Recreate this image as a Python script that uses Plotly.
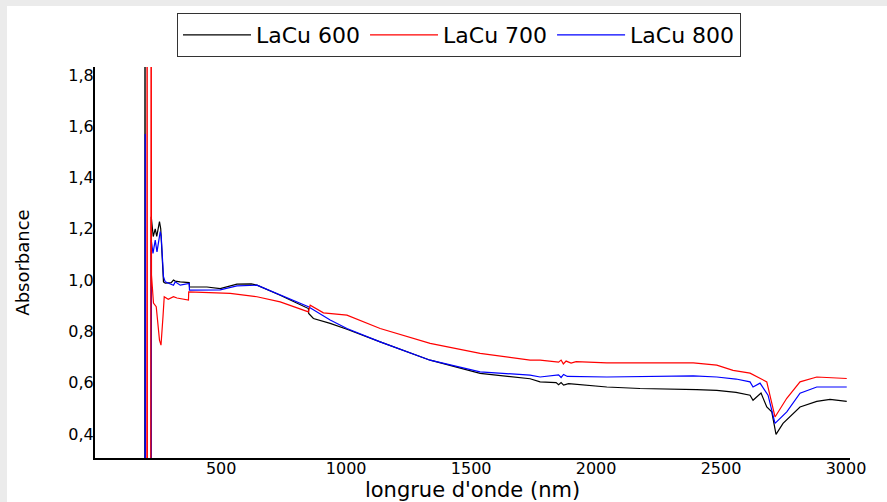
import plotly.graph_objects as go

# ---- data ----
series_names = ["LaCu 600", "LaCu 700", "LaCu 800"]

x_600 = [194, 195, 197, 219, 220, 228, 236, 242, 253, 258, 269, 276, 300, 309, 316, 336, 372, 373,
         443, 496, 563, 620, 643, 736, 849, 850, 869, 936, 1003, 1136, 1336, 1536, 1736, 1776, 1840,
         1850, 1860, 1870, 1890, 2043, 2176, 2403, 2483, 2560, 2616, 2628, 2660, 2683, 2703, 2720,
         2748, 2816, 2883, 2936, 3003]
y_600 = [-1, 3, -1, -1, 1.247, 1.17, 1.20, 1.17, 1.228, 1.20, 0.993, 0.988, 0.99, 1.0, 0.996, 0.993, 0.99, 0.973,
         0.973, 0.967, 0.984, 0.985, 0.98, 0.941, 0.889, 0.87, 0.85, 0.831, 0.808, 0.759, 0.6875, 0.636, 0.615, 0.603, 0.600,
         0.592, 0.600, 0.590, 0.596, 0.583, 0.577, 0.573, 0.570, 0.562, 0.551, 0.531, 0.559, 0.505, 0.486, 0.398,
         0.441, 0.505, 0.527, 0.535, 0.527]

x_700 = [202, 203.5, 205, 218, 219.5, 221, 229, 240, 253, 259, 267, 272, 288, 309, 323, 369, 370, 536,
         643, 736, 849, 856, 909, 1003, 1136, 1336, 1536, 1736, 1776, 1850, 1860, 1869, 1880, 1900, 1920,
         2043, 2243, 2389, 2483, 2548, 2616, 2683, 2716, 2763, 2816, 2883, 3003]
y_700 = [-1, 3, -1, -1, 3, 1.02, 0.91, 0.896, 0.766, 0.746, 0.857, 0.935, 0.925, 0.935, 0.93, 0.922, 0.954, 0.948,
         0.935, 0.915, 0.876, 0.902, 0.872, 0.863, 0.811, 0.753, 0.714, 0.6875, 0.6875, 0.680, 0.688, 0.673, 0.684, 0.676, 0.682,
         0.677, 0.677, 0.677, 0.668, 0.648, 0.637, 0.603, 0.466, 0.539, 0.603, 0.622, 0.616]

x_800 = [195, 196, 197, 219, 220, 227, 236, 243, 256, 260, 269, 276, 300, 309, 316, 336, 372, 373,
         496, 563, 643, 736, 849, 936, 1003, 1136, 1336, 1536, 1736, 1776, 1850, 1860, 1870, 1885,
         2043, 2389, 2483, 2560, 2616, 2628, 2656, 2688, 2716, 2763, 2816, 2883, 3003]
y_800 = [-1, 1.57, -1, -1, 1.156, 1.104, 1.156, 1.11, 1.189, 1.17, 1.013, 0.993, 0.983, 0.98, 0.993, 0.98, 0.987, 0.961,
         0.962, 0.977, 0.98, 0.941, 0.896, 0.844, 0.811, 0.759, 0.6875, 0.642, 0.629, 0.622, 0.630, 0.620, 0.632, 0.624,
         0.622, 0.626, 0.622, 0.614, 0.603, 0.583, 0.598, 0.551, 0.441, 0.486, 0.559, 0.583, 0.583]

x_ticks = [500, 1000, 1500, 2000, 2500, 3000]
y_ticks = [0.4, 0.6, 0.8, 1.0, 1.2, 1.4, 1.6, 1.8]

colors = {"LaCu 600": "#000000", "LaCu 700": "#ff0000", "LaCu 800": "#0000ff"}

fig = go.Figure()
# draw order: 600, 800, 700 (red on top), legend order kept by legendrank
for name, xs, ys, rank in [("LaCu 600", x_600, y_600, 1),
                           ("LaCu 800", x_800, y_800, 3),
                           ("LaCu 700", x_700, y_700, 2)]:
    fig.add_trace(go.Scatter(x=xs, y=ys, mode="lines", name=name, legendrank=rank,
                             line=dict(color=colors[name], width=1.2)))

L, R, T, B = 95, 37, 67, 44
W, H = 887, 502
pw, ph = W - L - R, H - T - B

def px_x(p):
    return (p - L) / pw

def px_y(p):
    return (H - B - p) / ph

fig.update_layout(
    width=W, height=H,
    margin=dict(l=L, r=R, t=T, b=B, autoexpand=False),
    paper_bgcolor="white",
    plot_bgcolor="white",
    separators=",.",
    font=dict(family="DejaVu Sans", color="black"),
    shapes=[dict(type="rect", xref="paper", yref="paper", layer="below",
                 x0=px_x(-2), x1=px_x(7), y0=px_y(H + 2), y1=px_y(-2),
                 fillcolor="#ebebeb", line=dict(width=0)),
            dict(type="rect", xref="paper", yref="paper", layer="below",
                 x0=px_x(-2), x1=px_x(W + 2), y0=px_y(6), y1=px_y(-2),
                 fillcolor="#ebebeb", line=dict(width=0))],
    legend=dict(orientation="h", x=px_x(459), xanchor="center",
                yref="container", y=1 - 13 / H, yanchor="top",
                bordercolor="#333333", borderwidth=1, bgcolor="white",
                font=dict(family="DejaVu Sans", size=22), itemwidth=68,
                traceorder="normal"),
    showlegend=True,
)
fig.update_xaxes(range=[-5, 3016], tickvals=x_ticks, showline=True, linecolor="black", linewidth=2,
                 showgrid=False, zeroline=False, ticks="", automargin=False, ticklabelstandoff=-5,
                 tickfont=dict(family="DejaVu Sans", size=16),
                 title=dict(text="longrue d'onde (nm)", font=dict(family="DejaVu Sans", size=21), standoff=6))
fig.update_yaxes(range=[0.306, 1.831], tickvals=y_ticks, tickformat=".1f", showline=True, linecolor="black",
                 linewidth=2, showgrid=False, zeroline=False, ticks="", automargin=False, ticklabelstandoff=-4,
                 tickfont=dict(family="DejaVu Sans", size=16),
                 title=dict(text="Absorbance", font=dict(family="DejaVu Sans", size=18), standoff=34))

fig.write_html("out.html")
